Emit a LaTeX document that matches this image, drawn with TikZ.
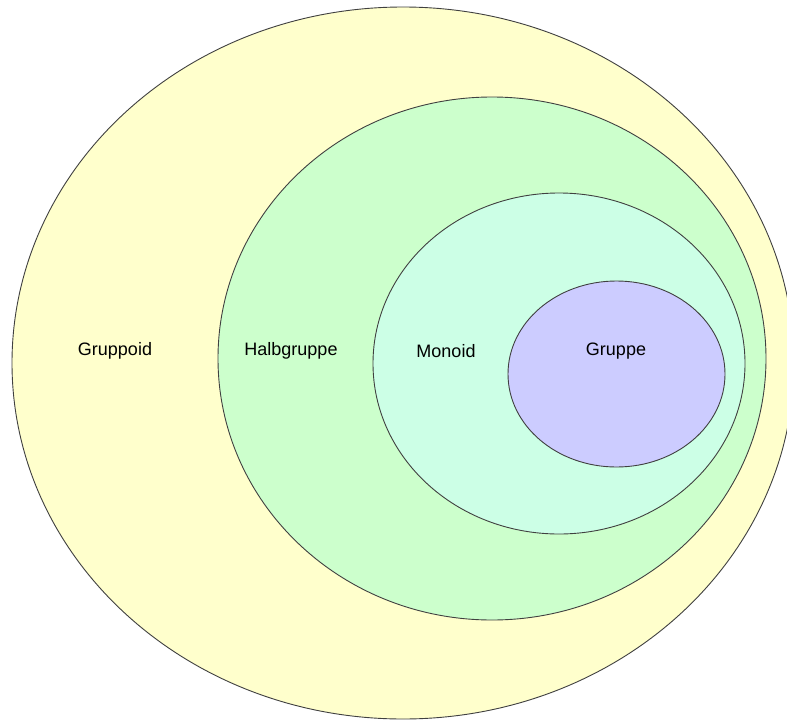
\documentclass[tikz,border=0pt]{standalone}
\usepackage{fontspec}
\setmainfont{Liberation Sans}
\definecolor{cyellow}{HTML}{FFFFCC}
\definecolor{cgreen}{HTML}{CCFFCC}
\definecolor{cmint}{HTML}{CCFFE6}
\definecolor{cpurple}{HTML}{CCCCFF}
\begin{document}
\begin{tikzpicture}[x=1pt,y=-1pt,
  setbox/.style={draw=black!75,line width=0.9pt},
  lbl/.style={font=\fontsize{18}{20}\selectfont,text=black,inner sep=0pt}]
\useasboundingbox (0,0) rectangle (787,720);
\clip (0,0) rectangle (787,720);
\fill[white] (0,0) rectangle (787,720);
\filldraw[setbox,fill=cyellow] (403,363) ellipse [x radius=391,y radius=356];
\filldraw[setbox,fill=cgreen] (492,358.5) ellipse [x radius=274,y radius=261.5];
\filldraw[setbox,fill=cmint] (559,363.5) ellipse [x radius=186,y radius=170.5];
\filldraw[setbox,fill=cpurple] (616.5,374) ellipse [x radius=108.5,y radius=93];
\node[lbl] (gruppoid) at (115,351) {Gruppoid};
\node[lbl] (halbgruppe) at (291,351) {Halbgruppe};
\node[lbl] (monoid) at (446,351) {Monoid};
\node[lbl] (gruppe) at (616,351) {Gruppe};
\end{tikzpicture}
\end{document}
